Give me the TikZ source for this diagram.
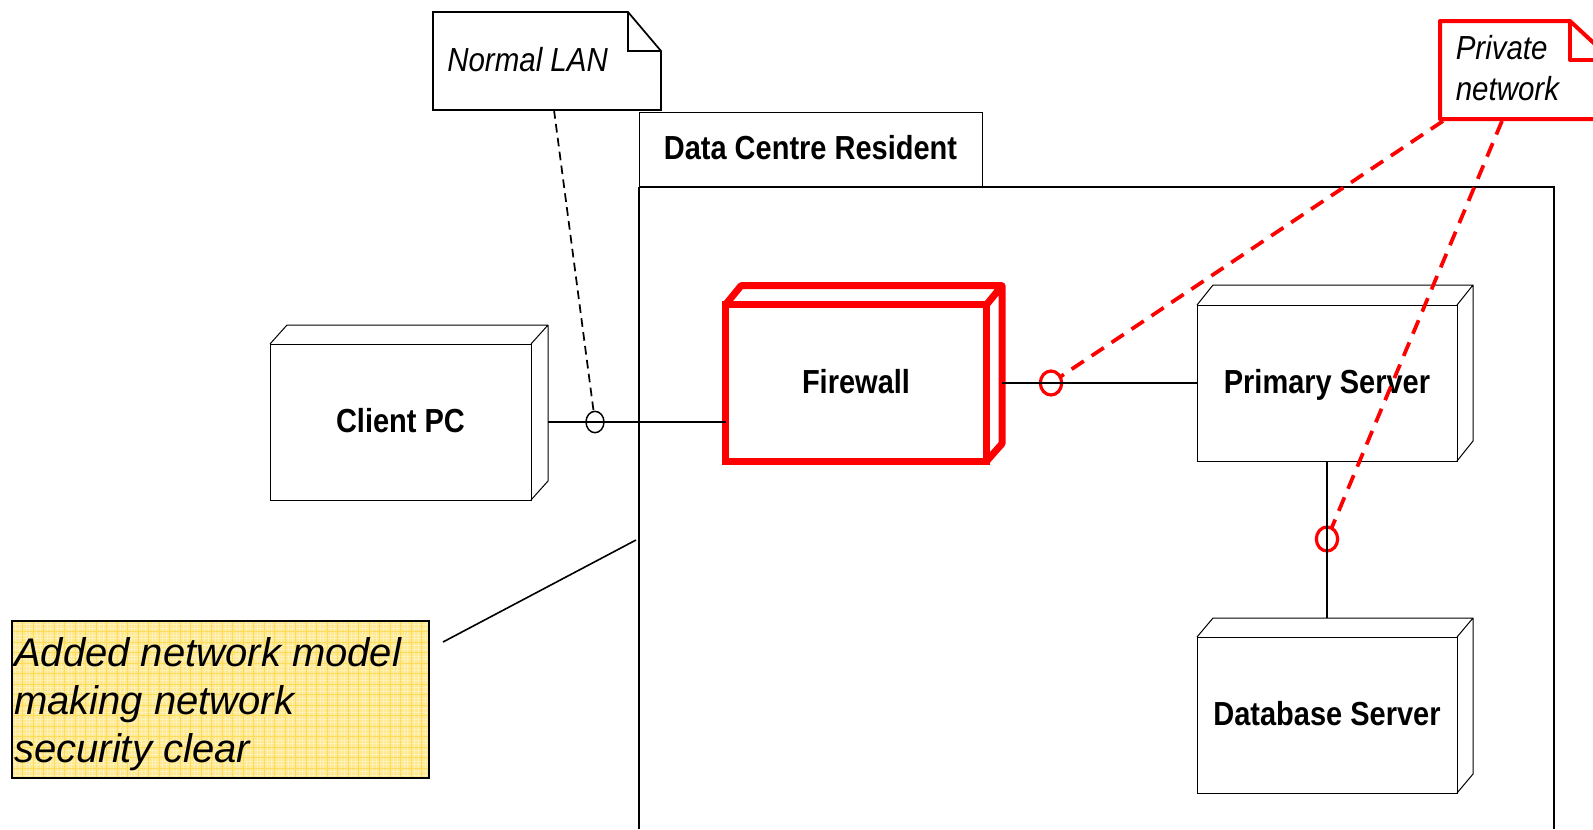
\documentclass[tikz,border=0pt]{standalone}
\usepackage{fontspec}
\setmainfont{Liberation Sans}
\usetikzlibrary{calc,shapes.geometric}
\definecolor{rd}{RGB}{255,0,0}
\definecolor{notefill}{RGB}{254,232,145}
\definecolor{notepale}{RGB}{255,242,185}
\definecolor{notegrid}{RGB}{253,220,90}
\tikzset{
  x=0.75pt,y=-0.75pt,
  thinline/.style={draw=black,line width=0.75pt},
  boxnode/.style={thinline,rectangle,inner sep=0pt,outer sep=0pt,fill=white,text height=15.5pt,text depth=0pt,font=\fontsize{25}{25}\bfseries\addfontfeature{FakeStretch=0.87}},
  redbox/.style={boxnode,draw=rd,line width=5.25pt},
  conn/.style={draw=black,line width=1.5pt},
  port/.style={ellipse,inner sep=0pt,outer sep=0pt,minimum width=13.5pt,minimum height=16pt,draw=black,line width=1.1pt,fill=none},
  redport/.style={port,draw=rd,line width=2.4pt,minimum width=16pt,minimum height=18pt},
  dashblack/.style={draw=black,line width=1.3pt,dash pattern=on 6.5pt off 4pt},
  dashred/.style={draw=rd,line width=2.8pt,dash pattern=on 11pt off 7pt},
  notetext/.style={font=\fontsize{25}{31}\itshape\addfontfeature{FakeStretch=0.885},align=left,inner sep=0pt,anchor=north west},
}
\begin{document}
\begin{tikzpicture}
\useasboundingbox (0,0) rectangle (1593,829);
\clip (0,0) rectangle (1593,829);
% package
\node[boxnode,minimum width=257.25pt,minimum height=56pt,anchor=north west,fill=none] (tab) at (639,112) {Data Centre Resident};
\draw[draw=black,line width=1.1pt] (639,187) -- (639,829);
\draw[thinline,line width=0.85pt] (639,187) -- (1554,187) -- (1554,829);
% note normal
\draw[thinline,line width=1.3pt,fill=white] (433,12) -- (628,12) -- (661,51) -- (661,110) -- (433,110) -- cycle;
\draw[thinline,line width=1.3pt] (628,12) -- (628,51) -- (661,51);
\node[notetext] (normallan) at (447,47) {Normal LAN};
\coordinate (nlfoot) at (554,110);
% client
\node[boxnode,minimum width=195.75pt,minimum height=117pt] (client) at (400.5,422) {Client PC};
\draw[thinline,line join=round] (client.north west) -- ++(17,-19) -- ++(261,0) -- ++(0,156) -- (client.south east) (client.north east) -- ++(17,-19);
\coordinate (clientside) at ($(client.east)+(17,0)$);
% firewall
\node[redbox,minimum width=195.75pt,minimum height=117.4pt] (fw) at (856,383) {Firewall};
\draw[draw=rd,line width=5.25pt,line join=round] (fw.north west) -- ++(15.5,-19) -- ++(261,0) -- ++(0,158) -- (fw.south east) (fw.north east) -- ++(15.5,-19);
\coordinate (fwside) at ($(fw.east)+(15.5,0)$);
% primary
\node[boxnode,minimum width=195pt,minimum height=117pt] (primary) at (1327,383) {Primary Server};
\draw[thinline,line join=round] (primary.north west) -- ++(16,-20) -- ++(260,0) -- ++(0,156) -- (primary.south east) (primary.north east) -- ++(16,-20);
% database
\node[boxnode,minimum width=195pt,minimum height=117pt] (db) at (1327,715) {Database Server};
\draw[thinline,line join=round] (db.north west) -- ++(16,-19) -- ++(260,0) -- ++(0,156) -- (db.south east) (db.north east) -- ++(16,-19);
% ports
\node[port] (p1) at (595,422) {};
\node[redport] (p2) at (1051,383) {};
\node[redport] (p3) at (1327,539) {};
% connectors
\draw[conn] (clientside) -- (p1.center);
\draw[conn] (p1.center) -- (fw.west |- p1);
\draw[conn] (fwside) -- (p2.center);
\draw[conn] (p2.center) -- (primary.west);
\draw[conn] (primary.south) -- (p3.center);
\draw[conn] (p3.center) -- ($(db.north)+(0,-19)$);
\draw[dashblack] (nlfoot) -- (p1);
% private note
\coordinate (pnA) at (1443,121);
\coordinate (pnB) at (1502,121);
\draw[dashred] (pnA) -- (p2);
\draw[dashred] (pnB) -- (p3);
\draw[draw=rd,line width=3pt,line join=round,fill=white] (1440,21) -- (1570,21) -- (1612,60) -- (1612,119) -- (1440,119) -- cycle;
\draw[draw=rd,line width=3pt,line join=round] (1570,21) -- (1570,60) -- (1612,60);
\node[notetext] (private) at (1455.5,35) {Private\\network};
% remark
\coordinate (remA) at (443,642);
\coordinate (remB) at (636,540);
\draw[draw=black,line width=1.2pt] (remA) -- (remB);
\fill[notefill] (12,621) rectangle (429,778);
\begin{scope}
\clip (12,621) rectangle (429,778);
\foreach \i in {0,3.5,...,420} \draw[notepale,line width=0.7pt] (12+\i,621) -- (12+\i,778);
\foreach \i in {0,3.5,...,160} \draw[notepale,line width=0.7pt] (12,621+\i) -- (429,621+\i);
\foreach \i in {0,10.5,...,420} \draw[notegrid,line width=0.7pt] (12+\i,621) -- (12+\i,778);
\foreach \i in {0,10.5,...,160} \draw[notegrid,line width=0.7pt] (12,621+\i) -- (429,621+\i);
\end{scope}
\draw[draw=black,line width=1.5pt] (12,621) rectangle (429,778);
\node[notetext,font=\fontsize{30}{36}\itshape] (remark) at (14,637) {Added network model\\making network\\security clear};
\end{tikzpicture}
\end{document}
